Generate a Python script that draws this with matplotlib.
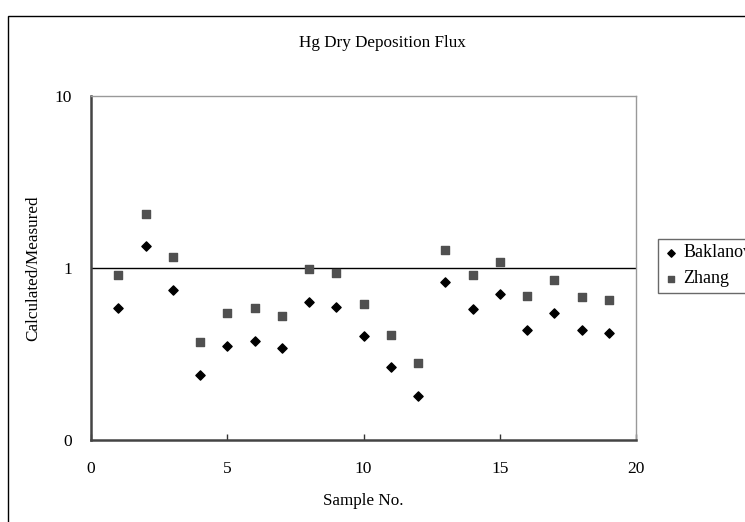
import matplotlib
matplotlib.use("Agg")
import matplotlib.pyplot as plt
from matplotlib.patches import Rectangle

plt.rcParams['font.family'] = ['Liberation Serif', 'DejaVu Serif']

# data
sample_no = list(range(1, 20))
baklanov = [0.588, 1.34, 0.745, 0.240, 0.352, 0.378, 0.341, 0.632, 0.596, 0.401,
            0.266, 0.181, 0.826, 0.580, 0.703, 0.438, 0.548, 0.438, 0.419]
zhang = [0.907, 2.07, 1.16, 0.370, 0.550, 0.583, 0.526, 0.99, 0.935, 0.618,
         0.410, 0.279, 1.27, 0.907, 1.08, 0.685, 0.855, 0.675, 0.649]
x_ticks = [0, 5, 10, 15, 20]
y_ticks = [0.1, 1, 10]
y_tick_labels = ["0", "1", "10"]

W, H = 745, 522
fig = plt.figure(figsize=(W / 100, H / 100), dpi=100)
ax = fig.add_axes([91 / W, 1 - 440 / H, (636 - 91) / W, (440 - 96) / H])

# outer chart border (runs off the right and bottom edges)
fig.patches.append(Rectangle((8 / W, -0.1), 1.2, 0.1 + 1 - 16 / H,
                             transform=fig.transFigure, fill=False,
                             edgecolor="black", linewidth=1.0))

ax.scatter(sample_no, baklanov, marker="D", s=22, color="black", label="Baklanov", zorder=3)
ax.scatter(sample_no, zhang, marker="s", s=26, color="#505050", label="Zhang", zorder=3)
ax.axhline(1, color="black", linewidth=1.0, zorder=1)

ax.set_yscale("log")
ax.set_ylim(0.1, 10)
ax.set_xlim(0, 20)
ax.set_xticks(x_ticks)
ax.set_yticks(y_ticks)
ax.set_yticklabels(y_tick_labels)
ax.yaxis.set_minor_locator(matplotlib.ticker.NullLocator())
ax.tick_params(axis="x", direction="in", length=4, width=1, labelsize=12.5, pad=15, color="#333333")
ax.tick_params(axis="y", direction="out", length=0, labelsize=12.5, pad=13.5)

for side in ["left", "bottom"]:
    ax.spines[side].set_color("#444444")
    ax.spines[side].set_linewidth(1.8)
for side in ["top", "right"]:
    ax.spines[side].set_color("#999999")
    ax.spines[side].set_linewidth(1.0)

fig.text(363 / W, 1 - 501 / H, "Sample No.", ha="center", va="center", fontsize=12.3)
fig.text(33 / W, 1 - 268 / H, "Calculated/Measured", ha="center", va="center",
         rotation=90, fontsize=12.3)
fig.text(382 / W, 1 - 43 / H, "Hg Dry Deposition Flux", ha="center", va="center", fontsize=12.3)

leg = ax.legend(loc="upper left", bbox_to_anchor=(658 / W, 1 - 239 / H),
                bbox_transform=fig.transFigure, frameon=True, fancybox=False,
                fontsize=13, handletextpad=0.3, handlelength=0.8, borderpad=0.3,
                labelspacing=0.5, borderaxespad=0, markerscale=0.8)
leg.get_frame().set_edgecolor("#444444")
leg.get_frame().set_linewidth(1.0)

fig.savefig("out.png", dpi=100)
